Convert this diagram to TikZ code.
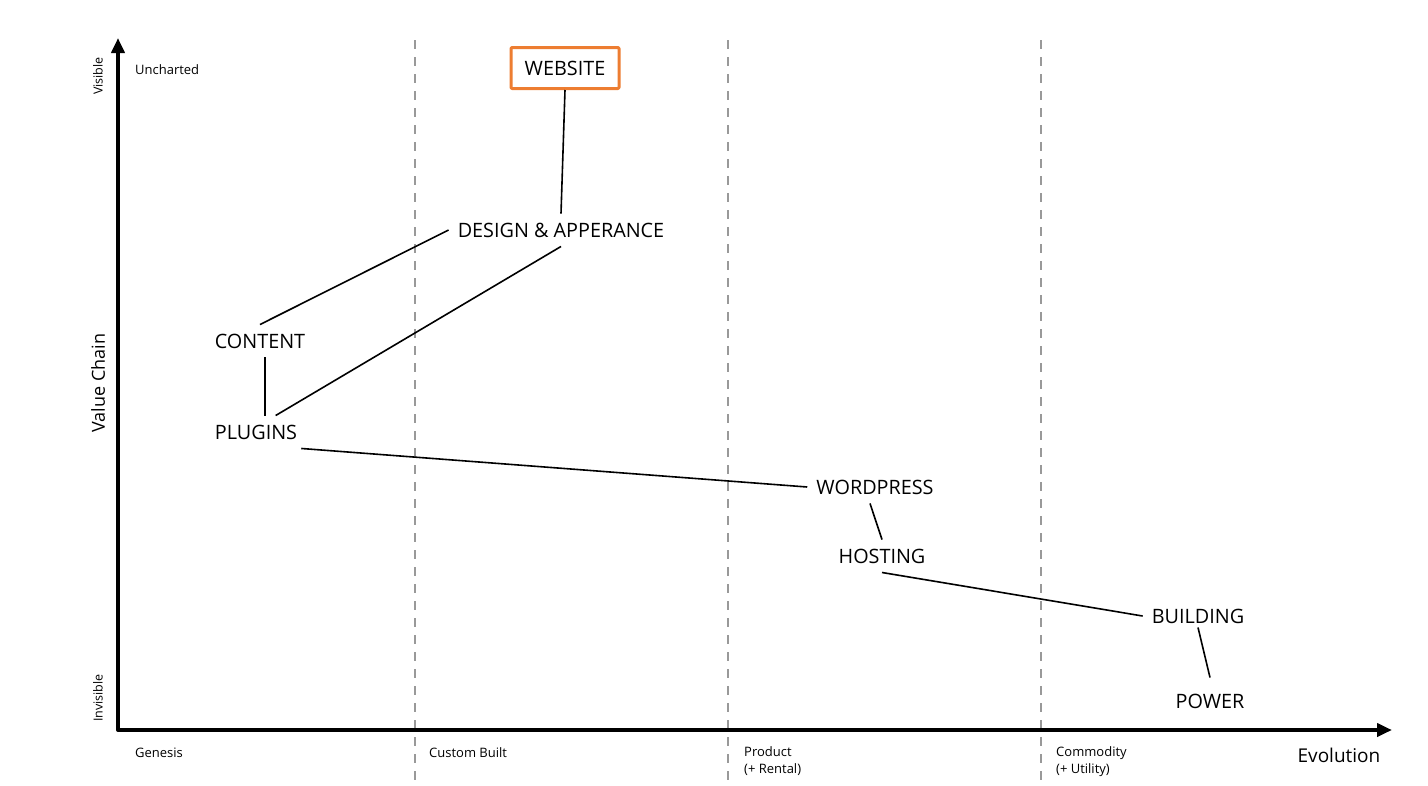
\documentclass[tikz,border=0pt]{standalone}
\usepackage{fontspec}
\setmainfont{Open Sans}
\usetikzlibrary{arrows.meta}
\definecolor{mapOrange}{HTML}{ED7D31}
\tikzset{
  comp/.style={font=\fontsize{19.8}{22}\selectfont, inner sep=9pt},
  small/.style={font=\fontsize{13}{17}\selectfont, align=left},
  link/.style={line width=1.6pt},
  stage/.style={gray!80, line width=1.5pt, dash pattern=on 9pt off 8pt}
}
\begin{document}
\begin{tikzpicture}[x=1pt,y=-1pt,line join=round]
\useasboundingbox (0,0) rectangle (1428,785);
% evolution stages
\foreach \x in {415,728,1041} \draw[stage] (\x,40)--(\x,782);
% axes
\path
(118,38) coordinate (top)
(1392,730) coordinate (right);
\draw [line width=4pt, {Triangle[length=15pt,width=13pt]}-{Triangle[length=15pt,width=13pt]}] (top) |- (right);
\node[rotate=90, font=\fontsize{12.5}{14}\selectfont] (visible) at (98,76) {Visible};
\node[rotate=90, font=\fontsize{12.5}{14}\selectfont] (invisible) at (98,698) {Invisible};
\node[rotate=90, font=\fontsize{18}{20}\selectfont] (vchain) at (98,383) {Value Chain};
\node[font=\fontsize{19}{20}\selectfont] (evol) at (1339,755) {Evolution};
\node[small, anchor=west, inner sep=0] (unch) at (135,70) {Uncharted};
\node[small, anchor=west, inner sep=0] (genesis) at (135,753) {Genesis};
\node[small, anchor=west, inner sep=0] (custom) at (429,753) {Custom Built};
\node[small, anchor=north west, inner sep=0] (product) at (744,746) {Product\\(+ Rental)};
\node[small, anchor=north west, inner sep=0] (commodity) at (1056,746) {Commodity\\(+ Utility)};
% components
\node[comp, draw=mapOrange, line width=3pt, rounded corners=1pt, minimum width=108pt, minimum height=41pt] (website) at (565,68) {WEBSITE};
\node[comp] (design) at (561,230) {DESIGN \& APPERANCE};
\node[comp] (content) at (260,341) {CONTENT};
\node[comp] (plugins) at (256,432) {PLUGINS};
\node[comp] (wordpress) at (875,487) {WORDPRESS};
\node[comp] (hosting) at (882,556) {HOSTING};
\node[comp] (building) at (1198,616) {BUILDING};
\node[comp] (power) at (1210,701) {POWER};
% links
\draw[link] (website.south)--(design.north);
\draw[link] (design.west)--(content.north);
\draw[link] (design.south)--(plugins.40);
\draw[link] ([xshift=5pt]content.south)--([xshift=5pt]content.south |- plugins.north);
\draw[link] (plugins.-20)--(wordpress.west);
\draw[link] ([xshift=-5pt]wordpress.south)--(hosting.north);
\draw[link] (hosting.south)--(building.west);
\draw[link] ([yshift=5pt]building.south)--([yshift=7pt]power.north);
\end{tikzpicture}
\end{document}
